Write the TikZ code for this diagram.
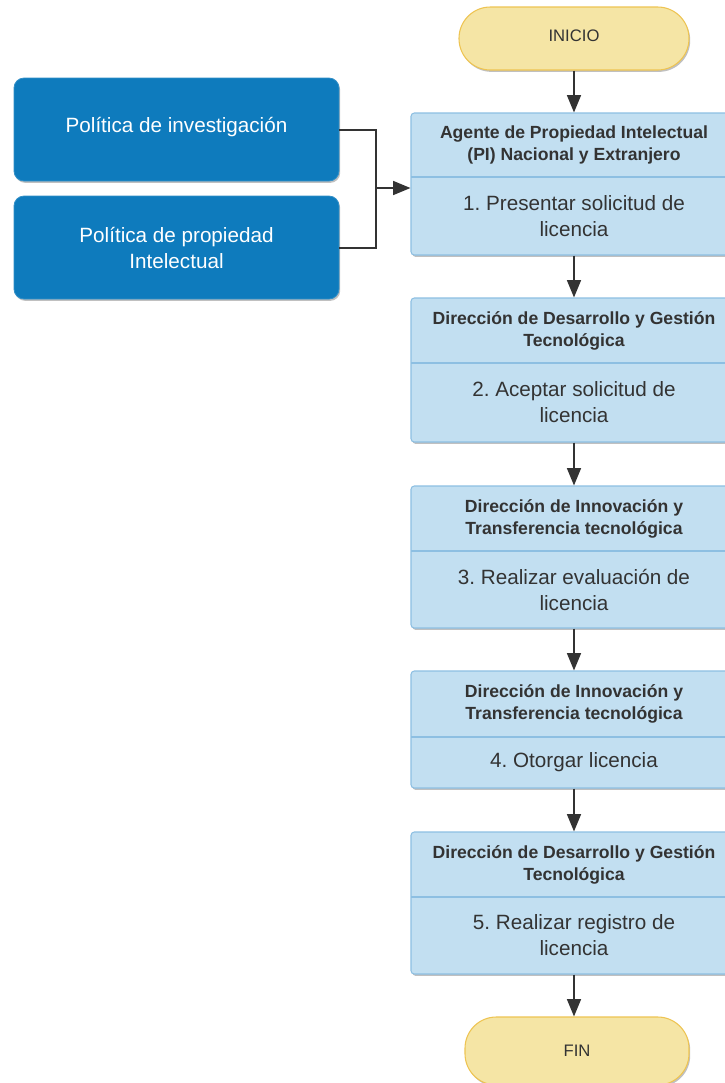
\documentclass[tikz,border=0pt]{standalone}
\usepackage{fontspec}
\setmainfont{Liberation Sans}
\usetikzlibrary{arrows.meta,shadows,positioning}
\definecolor{termfill}{HTML}{F5E5A5}
\definecolor{termdraw}{HTML}{EEC452}
\definecolor{procfill}{HTML}{C2DFF1}
\definecolor{procdraw}{HTML}{8DBFE2}
\definecolor{polfill}{HTML}{0E7BBD}
\definecolor{inkc}{HTML}{333333}
\tikzset{
  shd/.style={drop shadow={shadow xshift=0.9pt,shadow yshift=-1.4pt,opacity=0.35,fill=black!70}},
  term/.style={shd,rounded corners=23.5pt,fill=termfill,draw=termdraw,line width=0.8pt,
    text=inkc,font=\fontsize{12.5}{15}\selectfont,inner sep=0pt},
  proc/.style={shd,rounded corners=2.5pt,fill=procfill,draw=procdraw,line width=0.8pt,inner sep=0pt},
  pol/.style={shd,rounded corners=7.5pt,fill=polfill,draw=polfill!85!white,line width=0.6pt,
    text=white,align=center,font=\fontsize{15.5}{19.5}\selectfont,inner sep=0pt,
    minimum width=243.75pt,minimum height=77.25pt},
  head/.style={text=inkc,align=center,font=\bfseries\fontsize{13.2}{16.5}\selectfont,inner sep=0pt},
  body/.style={text=inkc,align=center,font=\fontsize{15.5}{19.5}\selectfont,inner sep=0pt},
  divl/.style={draw=procdraw,line width=0.8pt},
  conn/.style={draw=inkc,line width=1.1pt},
  arr/.style={conn,-{Triangle[length=13pt,width=10.5pt]}},
  plain/.style={inner sep=0pt}
}
\begin{document}
\frenchspacing
\begin{tikzpicture}[x=0.75pt,y=-0.75pt]
\useasboundingbox (0,0) rectangle (725,1083);
\clip (0,0) rectangle (725,1083);
\fill[white] (0,0) rectangle (725,1083);

% terminals
\node[term,minimum width=172.5pt,minimum height=47.25pt] (inicio) at (574,38.5) {};
\node[plain,text=inkc,font=\fontsize{12.5}{15}\selectfont] (inicioT) at (574,36) {INICIO};
\node[term,minimum width=168pt,minimum height=51pt] (fin) at (577,1051) {};
\node[plain,text=inkc,font=\fontsize{12.5}{15}\selectfont] (finT) at (577,1051) {FIN};

% policy boxes
\node[pol] (pa) at (176.5,129.5) {};
\node[plain,text=white,font=\fontsize{15.5}{19.5}\selectfont] (paT) at (176.5,127) {Política de investigación};
\node[pol] (pb) at (176.5,247.5) {Política de propiedad\\Intelectual};

% process boxes
\newcommand{\procbox}[8]{%
  \node[proc,minimum width=244.5pt,minimum height=#3*0.75pt] (#1) at (574,#2) {};
  \draw[divl] (411,#4) -- (737,#4);
  \node[head] (#1h) at (574,#5) {#6};
  \node[body] (#1b) at (574,#7) {#8};
}
\procbox{b1}{184}{142}{177}{145}{Agente de Propiedad Intelectual\\(PI) Nacional y Extranjero}{216}{1. Presentar solicitud de\\licencia}
\procbox{b2}{370}{144}{363}{330.5}{Dirección de Desarrollo y Gestión\\Tecnológica}{402.5}{2. Aceptar solicitud de\\licencia}
\procbox{b3}{557}{142}{551}{518.5}{Dirección de Innovación y\\Transferencia tecnológica}{589.5}{3. Realizar evaluación de\\licencia}
\procbox{b4}{729.5}{117}{737}{704}{Dirección de Innovación y\\Transferencia tecnológica}{762.5}{4. Otorgar licencia}
\procbox{b5}{903}{142}{897}{864.5}{Dirección de Desarrollo y Gestión\\Tecnológica}{935.5}{5. Realizar registro de\\licencia}

% connectors
\coordinate (jn) at (376,188);
\draw[conn] (pa.east |- 0,130) -| (jn);
\draw[conn] (pb.east |- 0,248) -| (jn);
\draw[arr] (jn) -- (jn -| b1.west);
\draw[arr] (inicio.south -| 574,0) -- (b1.north -| 574,0);
\draw[arr] (b1.south -| 574,0) -- (b2.north -| 574,0);
\draw[arr] (b2.south -| 574,0) -- (b3.north -| 574,0);
\draw[arr] (b3.south -| 574,0) -- (b4.north -| 574,0);
\draw[arr] (b4.south -| 574,0) -- (b5.north -| 574,0);
\draw[arr] (b5.south -| 574,0) -- (fin.north -| 574,0);
\end{tikzpicture}
\end{document}
